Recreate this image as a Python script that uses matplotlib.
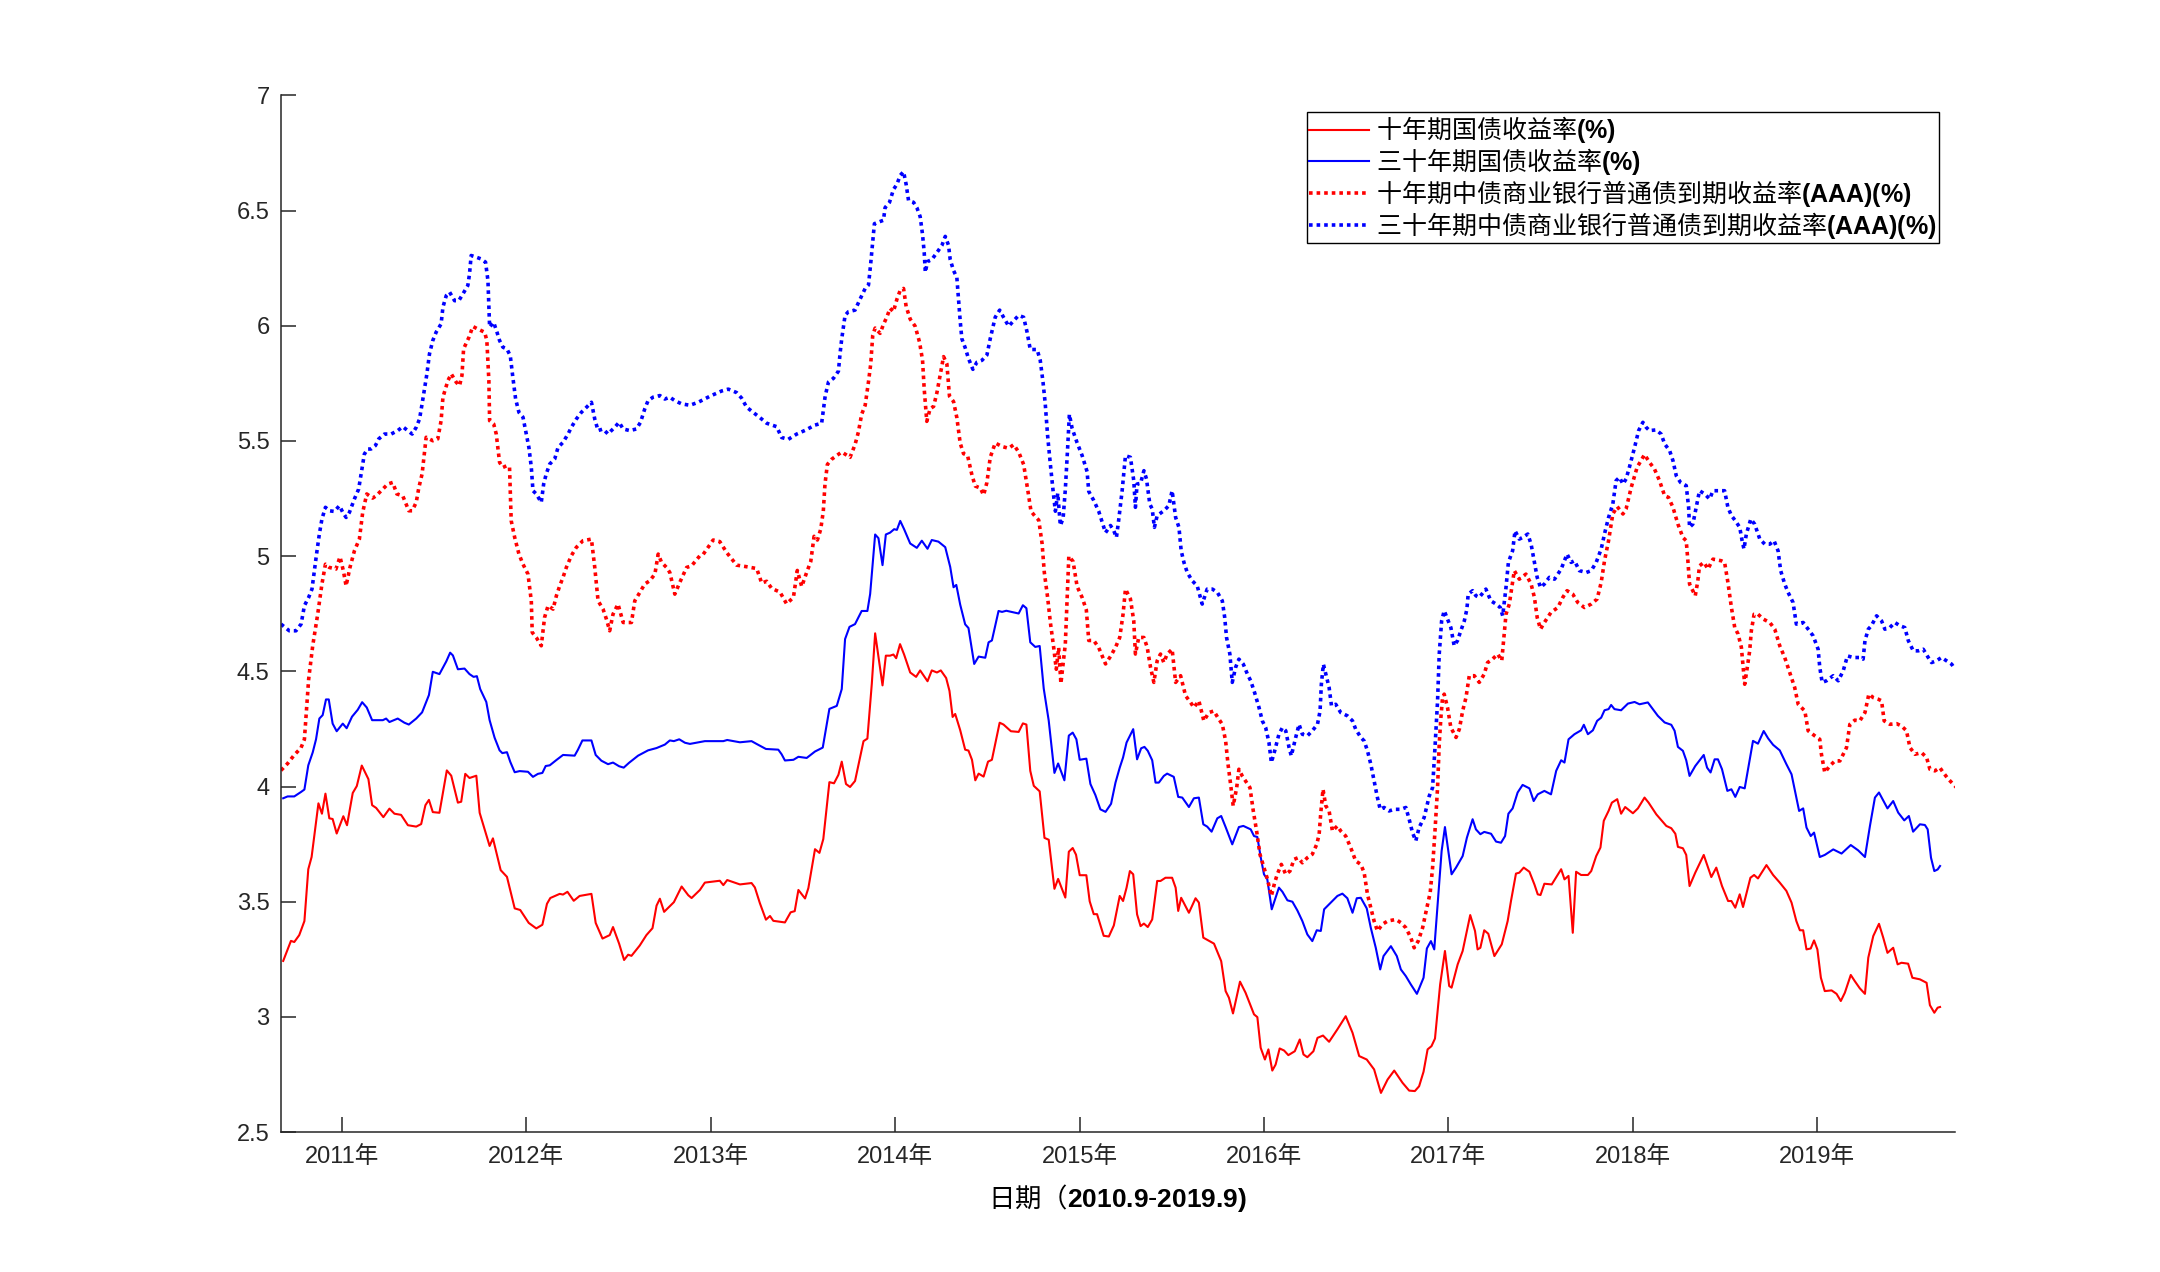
import matplotlib
matplotlib.use("Agg")
import matplotlib.pyplot as plt
from matplotlib.ticker import FuncFormatter

# 中文字体 + 粗体数字（MATLAB风格）
plt.rcParams['font.family'] = ['Liberation Sans', 'Noto Sans CJK SC']
plt.rcParams['mathtext.fontset'] = 'custom'
plt.rcParams['mathtext.rm'] = 'Noto Sans CJK SC'
plt.rcParams['mathtext.bf'] = 'Liberation Sans:bold'
plt.rcParams['axes.unicode_minus'] = False

# 十年期国债收益率 (时间: 小数年份)
gov10_t = [2010.683, 2010.725, 2010.743, 2010.770, 2010.798, 2010.819, 2010.837, 2010.874, 2010.893, 2010.912,
           2010.933, 2010.951, 2010.973, 2011.009, 2011.029, 2011.060, 2011.082, 2011.109, 2011.145, 2011.165,
           2011.187, 2011.226, 2011.259, 2011.286, 2011.322, 2011.359, 2011.404, 2011.431, 2011.454, 2011.473,
           2011.494, 2011.530, 2011.570, 2011.594, 2011.630, 2011.648, 2011.670, 2011.693, 2011.730, 2011.748,
           2011.802, 2011.820, 2011.862, 2011.896, 2011.938, 2011.968, 2012.014, 2012.055, 2012.088, 2012.113,
           2012.131, 2012.182, 2012.200, 2012.224, 2012.258, 2012.290, 2012.354, 2012.377, 2012.414, 2012.453,
           2012.471, 2012.504, 2012.531, 2012.553, 2012.571, 2012.616, 2012.652, 2012.685, 2012.707, 2012.725,
           2012.748, 2012.801, 2012.843, 2012.879, 2012.897, 2012.942, 2012.969, 2013.050, 2013.069, 2013.090,
           2013.159, 2013.222, 2013.240, 2013.267, 2013.300, 2013.322, 2013.340, 2013.403, 2013.434, 2013.456,
           2013.476, 2013.512, 2013.530, 2013.566, 2013.590, 2013.611, 2013.644, 2013.669, 2013.693, 2013.711,
           2013.734, 2013.756, 2013.783, 2013.829, 2013.850, 2013.874, 2013.892, 2013.912, 2013.932, 2013.950,
           2013.973, 2013.991, 2014.006, 2014.027, 2014.049, 2014.082, 2014.114, 2014.136, 2014.176, 2014.199,
           2014.227, 2014.248, 2014.277, 2014.295, 2014.312, 2014.326, 2014.353, 2014.380, 2014.398, 2014.417,
           2014.435, 2014.453, 2014.480, 2014.504, 2014.525, 2014.567, 2014.588, 2014.628, 2014.670, 2014.693,
           2014.712, 2014.733, 2014.752, 2014.784, 2014.810, 2014.833, 2014.864, 2014.884, 2014.923, 2014.942,
           2014.963, 2014.981, 2015.001, 2015.037, 2015.055, 2015.077, 2015.095, 2015.131, 2015.159, 2015.186,
           2015.218, 2015.236, 2015.255, 2015.273, 2015.291, 2015.312, 2015.331, 2015.349, 2015.370, 2015.394,
           2015.421, 2015.439, 2015.466, 2015.502, 2015.521, 2015.535, 2015.551, 2015.593, 2015.629, 2015.647,
           2015.671, 2015.729, 2015.768, 2015.792, 2015.810, 2015.832, 2015.870, 2015.900, 2015.946, 2015.964,
           2015.982, 2016.005, 2016.024, 2016.045, 2016.063, 2016.085, 2016.109, 2016.132, 2016.167, 2016.194,
           2016.214, 2016.235, 2016.268, 2016.290, 2016.320, 2016.353, 2016.398, 2016.443, 2016.480, 2016.516,
           2016.557, 2016.597, 2016.634, 2016.670, 2016.706, 2016.751, 2016.787, 2016.818, 2016.841, 2016.865,
           2016.887, 2016.908, 2016.927, 2016.955, 2016.981, 2017.004, 2017.017, 2017.050, 2017.077, 2017.118,
           2017.144, 2017.158, 2017.173, 2017.194, 2017.216, 2017.249, 2017.289, 2017.321, 2017.339, 2017.366,
           2017.384, 2017.408, 2017.439, 2017.466, 2017.484, 2017.499, 2017.520, 2017.560, 2017.611, 2017.629,
           2017.651, 2017.674, 2017.692, 2017.719, 2017.756, 2017.774, 2017.801, 2017.824, 2017.842, 2017.868,
           2017.886, 2017.915, 2017.936, 2017.958, 2018.000, 2018.027, 2018.063, 2018.085, 2018.127, 2018.181,
           2018.208, 2018.230, 2018.244, 2018.271, 2018.289, 2018.307, 2018.338, 2018.384, 2018.425, 2018.452,
           2018.483, 2018.516, 2018.534, 2018.555, 2018.579, 2018.597, 2018.637, 2018.657, 2018.678, 2018.724,
           2018.760, 2018.796, 2018.832, 2018.860, 2018.886, 2018.905, 2018.923, 2018.941, 2018.964, 2018.982,
           2019.000, 2019.019, 2019.040, 2019.077, 2019.104, 2019.127, 2019.149, 2019.181, 2019.203, 2019.230,
           2019.258, 2019.276, 2019.303, 2019.334, 2019.357, 2019.380, 2019.411, 2019.435, 2019.456, 2019.492,
           2019.515, 2019.556, 2019.592, 2019.610, 2019.634, 2019.652, 2019.665]
gov10 = [3.243, 3.330, 3.325, 3.355, 3.416, 3.641, 3.694, 3.927, 3.882, 3.969,
         3.862, 3.859, 3.796, 3.871, 3.832, 3.972, 4.002, 4.091, 4.032, 3.919,
         3.907, 3.867, 3.904, 3.882, 3.877, 3.832, 3.826, 3.837, 3.919, 3.942,
         3.889, 3.886, 4.070, 4.047, 3.930, 3.934, 4.055, 4.037, 4.047, 3.886,
         3.742, 3.775, 3.637, 3.608, 3.471, 3.464, 3.408, 3.384, 3.400, 3.491,
         3.516, 3.534, 3.531, 3.543, 3.504, 3.525, 3.534, 3.408, 3.340, 3.355,
         3.390, 3.318, 3.247, 3.270, 3.265, 3.310, 3.355, 3.385, 3.483, 3.513,
         3.456, 3.498, 3.566, 3.528, 3.516, 3.551, 3.583, 3.591, 3.572, 3.594,
         3.575, 3.581, 3.562, 3.494, 3.422, 3.438, 3.417, 3.410, 3.454, 3.459,
         3.551, 3.514, 3.559, 3.728, 3.712, 3.772, 4.019, 4.014, 4.051, 4.108,
         4.011, 3.998, 4.024, 4.197, 4.208, 4.447, 4.665, 4.552, 4.439, 4.568,
         4.568, 4.573, 4.557, 4.618, 4.573, 4.495, 4.476, 4.504, 4.457, 4.504,
         4.495, 4.504, 4.471, 4.415, 4.302, 4.315, 4.245, 4.160, 4.156, 4.116,
         4.027, 4.056, 4.043, 4.108, 4.116, 4.277, 4.269, 4.240, 4.237, 4.274,
         4.269, 4.068, 4.003, 3.979, 3.777, 3.769, 3.556, 3.599, 3.518, 3.717,
         3.733, 3.704, 3.615, 3.615, 3.502, 3.446, 3.446, 3.352, 3.349, 3.397,
         3.525, 3.503, 3.561, 3.633, 3.619, 3.445, 3.394, 3.405, 3.390, 3.423,
         3.590, 3.590, 3.604, 3.604, 3.561, 3.460, 3.517, 3.452, 3.515, 3.496,
         3.344, 3.318, 3.242, 3.112, 3.083, 3.015, 3.153, 3.105, 3.011, 2.999,
         2.866, 2.815, 2.859, 2.767, 2.793, 2.863, 2.854, 2.834, 2.851, 2.902,
         2.837, 2.825, 2.851, 2.909, 2.919, 2.892, 2.946, 3.003, 2.931, 2.830,
         2.815, 2.772, 2.670, 2.728, 2.767, 2.714, 2.680, 2.678, 2.699, 2.762,
         2.859, 2.873, 2.906, 3.141, 3.286, 3.134, 3.127, 3.228, 3.286, 3.442,
         3.373, 3.293, 3.300, 3.376, 3.361, 3.264, 3.315, 3.416, 3.503, 3.622,
         3.626, 3.648, 3.630, 3.575, 3.532, 3.529, 3.578, 3.575, 3.641, 3.597,
         3.612, 3.365, 3.630, 3.616, 3.616, 3.633, 3.698, 3.735, 3.851, 3.894,
         3.930, 3.945, 3.882, 3.911, 3.884, 3.905, 3.952, 3.930, 3.879, 3.829,
         3.819, 3.795, 3.738, 3.732, 3.703, 3.568, 3.626, 3.703, 3.607, 3.648,
         3.568, 3.503, 3.503, 3.474, 3.532, 3.477, 3.604, 3.616, 3.601, 3.659,
         3.616, 3.583, 3.547, 3.496, 3.416, 3.376, 3.376, 3.293, 3.297, 3.332,
         3.293, 3.170, 3.112, 3.115, 3.100, 3.069, 3.105, 3.182, 3.155, 3.124,
         3.100, 3.257, 3.351, 3.404, 3.344, 3.278, 3.300, 3.228, 3.235, 3.231,
         3.170, 3.163, 3.148, 3.051, 3.018, 3.040, 3.043]

# 三十年期国债收益率
gov30_t = [2010.683, 2010.707, 2010.743, 2010.779, 2010.798, 2010.819, 2010.843, 2010.861, 2010.879, 2010.897,
           2010.915, 2010.930, 2010.951, 2010.973, 2011.006, 2011.027, 2011.056, 2011.087, 2011.111, 2011.136,
           2011.165, 2011.223, 2011.241, 2011.259, 2011.304, 2011.340, 2011.364, 2011.404, 2011.436, 2011.473,
           2011.494, 2011.530, 2011.567, 2011.588, 2011.603, 2011.630, 2011.666, 2011.693, 2011.715, 2011.733,
           2011.751, 2011.784, 2011.802, 2011.829, 2011.856, 2011.871, 2011.896, 2011.914, 2011.938, 2011.965,
           2012.010, 2012.037, 2012.064, 2012.088, 2012.106, 2012.128, 2012.164, 2012.200, 2012.263, 2012.281,
           2012.305, 2012.354, 2012.377, 2012.408, 2012.444, 2012.471, 2012.504, 2012.529, 2012.558, 2012.607,
           2012.661, 2012.707, 2012.752, 2012.779, 2012.801, 2012.830, 2012.861, 2012.888, 2012.942, 2012.969,
           2013.069, 2013.090, 2013.159, 2013.222, 2013.249, 2013.300, 2013.367, 2013.385, 2013.403, 2013.449,
           2013.476, 2013.521, 2013.566, 2013.608, 2013.644, 2013.684, 2013.711, 2013.729, 2013.753, 2013.783,
           2013.819, 2013.850, 2013.865, 2013.883, 2013.892, 2013.910, 2013.932, 2013.950, 2013.973, 2013.995,
           2014.010, 2014.028, 2014.049, 2014.082, 2014.118, 2014.145, 2014.176, 2014.199, 2014.235, 2014.272,
           2014.299, 2014.317, 2014.332, 2014.353, 2014.380, 2014.398, 2014.429, 2014.453, 2014.489, 2014.507,
           2014.525, 2014.561, 2014.580, 2014.603, 2014.670, 2014.693, 2014.712, 2014.733, 2014.760, 2014.784,
           2014.806, 2014.833, 2014.864, 2014.884, 2014.918, 2014.942, 2014.963, 2014.983, 2015.001, 2015.037,
           2015.059, 2015.086, 2015.113, 2015.141, 2015.171, 2015.195, 2015.218, 2015.236, 2015.255, 2015.291,
           2015.312, 2015.334, 2015.352, 2015.370, 2015.394, 2015.412, 2015.430, 2015.457, 2015.475, 2015.511,
           2015.535, 2015.557, 2015.593, 2015.620, 2015.647, 2015.671, 2015.692, 2015.716, 2015.747, 2015.768,
           2015.792, 2015.828, 2015.864, 2015.888, 2015.928, 2015.946, 2015.964, 2015.982, 2016.000, 2016.018,
           2016.042, 2016.060, 2016.081, 2016.100, 2016.127, 2016.154, 2016.181, 2016.208, 2016.235, 2016.262,
           2016.286, 2016.308, 2016.326, 2016.362, 2016.398, 2016.425, 2016.452, 2016.480, 2016.503, 2016.525,
           2016.557, 2016.579, 2016.606, 2016.630, 2016.648, 2016.688, 2016.720, 2016.742, 2016.769, 2016.796,
           2016.829, 2016.865, 2016.883, 2016.905, 2016.923, 2016.941, 2016.963, 2016.981, 2016.999, 2017.017,
           2017.041, 2017.077, 2017.100, 2017.131, 2017.149, 2017.173, 2017.194, 2017.231, 2017.258, 2017.285,
           2017.307, 2017.325, 2017.348, 2017.375, 2017.402, 2017.439, 2017.462, 2017.484, 2017.520, 2017.556,
           2017.584, 2017.611, 2017.629, 2017.651, 2017.683, 2017.719, 2017.734, 2017.756, 2017.783, 2017.806,
           2017.828, 2017.846, 2017.868, 2017.882, 2017.900, 2017.936, 2017.973, 2018.009, 2018.036, 2018.081,
           2018.108, 2018.135, 2018.172, 2018.208, 2018.226, 2018.244, 2018.271, 2018.289, 2018.307, 2018.338,
           2018.384, 2018.402, 2018.421, 2018.443, 2018.461, 2018.483, 2018.512, 2018.534, 2018.555, 2018.579,
           2018.606, 2018.624, 2018.651, 2018.678, 2018.709, 2018.733, 2018.760, 2018.796, 2018.832, 2018.860,
           2018.877, 2018.901, 2018.923, 2018.941, 2018.964, 2018.982, 2019.013, 2019.040, 2019.086, 2019.131,
           2019.181, 2019.221, 2019.258, 2019.285, 2019.312, 2019.334, 2019.357, 2019.380, 2019.411, 2019.438,
           2019.471, 2019.496, 2019.519, 2019.556, 2019.583, 2019.598, 2019.616, 2019.634, 2019.652, 2019.665]
gov30 = [3.949, 3.957, 3.957, 3.976, 3.987, 4.092, 4.148, 4.205, 4.295, 4.310,
         4.378, 4.378, 4.273, 4.240, 4.273, 4.253, 4.303, 4.333, 4.366, 4.343,
         4.288, 4.288, 4.295, 4.280, 4.295, 4.277, 4.269, 4.295, 4.322, 4.397,
         4.498, 4.488, 4.543, 4.581, 4.569, 4.509, 4.512, 4.488, 4.476, 4.479,
         4.423, 4.367, 4.288, 4.212, 4.157, 4.145, 4.149, 4.107, 4.062, 4.067,
         4.064, 4.042, 4.055, 4.059, 4.089, 4.092, 4.115, 4.137, 4.134, 4.160,
         4.200, 4.200, 4.137, 4.112, 4.097, 4.104, 4.088, 4.082, 4.103, 4.134,
         4.157, 4.167, 4.182, 4.200, 4.197, 4.205, 4.190, 4.185, 4.193, 4.197,
         4.197, 4.202, 4.192, 4.197, 4.185, 4.163, 4.160, 4.140, 4.113, 4.116,
         4.129, 4.124, 4.152, 4.169, 4.337, 4.350, 4.423, 4.640, 4.693, 4.705,
         4.762, 4.762, 4.836, 5.008, 5.094, 5.078, 4.961, 5.094, 5.102, 5.117,
         5.114, 5.153, 5.117, 5.055, 5.036, 5.067, 5.032, 5.070, 5.063, 5.039,
         4.953, 4.865, 4.875, 4.790, 4.704, 4.688, 4.532, 4.564, 4.559, 4.626,
         4.634, 4.762, 4.758, 4.763, 4.751, 4.787, 4.774, 4.626, 4.606, 4.610,
         4.425, 4.286, 4.059, 4.100, 4.027, 4.221, 4.234, 4.205, 4.116, 4.121,
         4.011, 3.963, 3.901, 3.890, 3.925, 4.017, 4.082, 4.126, 4.191, 4.249,
         4.118, 4.166, 4.172, 4.155, 4.114, 4.017, 4.017, 4.046, 4.056, 4.042,
         3.955, 3.952, 3.911, 3.949, 3.952, 3.836, 3.826, 3.804, 3.862, 3.872,
         3.824, 3.749, 3.824, 3.829, 3.814, 3.785, 3.781, 3.694, 3.619, 3.597,
         3.467, 3.510, 3.561, 3.543, 3.506, 3.500, 3.462, 3.416, 3.358, 3.329,
         3.376, 3.373, 3.467, 3.496, 3.525, 3.535, 3.515, 3.452, 3.515, 3.517,
         3.471, 3.387, 3.300, 3.206, 3.264, 3.307, 3.264, 3.206, 3.177, 3.141,
         3.100, 3.170, 3.297, 3.329, 3.293, 3.488, 3.720, 3.824, 3.720, 3.619,
         3.648, 3.698, 3.778, 3.858, 3.814, 3.793, 3.803, 3.795, 3.761, 3.756,
         3.785, 3.882, 3.905, 3.974, 4.007, 3.992, 3.937, 3.966, 3.981, 3.966,
         4.068, 4.114, 4.104, 4.205, 4.227, 4.244, 4.268, 4.227, 4.244, 4.285,
         4.299, 4.331, 4.336, 4.354, 4.336, 4.331, 4.360, 4.367, 4.357, 4.365,
         4.336, 4.307, 4.278, 4.268, 4.242, 4.172, 4.155, 4.114, 4.046, 4.089,
         4.137, 4.082, 4.061, 4.118, 4.118, 4.075, 3.981, 3.988, 3.955, 3.998,
         3.992, 4.075, 4.198, 4.186, 4.241, 4.209, 4.181, 4.157, 4.097, 4.053,
         3.988, 3.894, 3.905, 3.822, 3.785, 3.800, 3.694, 3.703, 3.727, 3.709,
         3.746, 3.723, 3.694, 3.829, 3.952, 3.974, 3.940, 3.905, 3.937, 3.887,
         3.853, 3.872, 3.804, 3.836, 3.833, 3.814, 3.691, 3.633, 3.640, 3.655]

# 十年期中债商业银行普通债到期收益率(AAA)
aaa10_t = [2010.671, 2010.707, 2010.743, 2010.779, 2010.798, 2010.821, 2010.843, 2010.870, 2010.893, 2010.912,
           2010.933, 2010.969, 2010.991, 2011.009, 2011.024, 2011.045, 2011.069, 2011.096, 2011.114, 2011.136,
           2011.168, 2011.187, 2011.223, 2011.250, 2011.277, 2011.299, 2011.331, 2011.364, 2011.382, 2011.404,
           2011.418, 2011.436, 2011.458, 2011.494, 2011.521, 2011.539, 2011.549, 2011.576, 2011.594, 2011.621,
           2011.639, 2011.652, 2011.661, 2011.690, 2011.711, 2011.738, 2011.775, 2011.787, 2011.798, 2011.802,
           2011.824, 2011.838, 2011.856, 2011.874, 2011.896, 2011.910, 2011.919, 2011.938, 2011.961, 2011.983,
           2012.010, 2012.028, 2012.033, 2012.055, 2012.082, 2012.100, 2012.119, 2012.146, 2012.164, 2012.182,
           2012.200, 2012.218, 2012.245, 2012.272, 2012.308, 2012.354, 2012.372, 2012.390, 2012.417, 2012.435,
           2012.453, 2012.471, 2012.498, 2012.526, 2012.571, 2012.589, 2012.616, 2012.643, 2012.670, 2012.698,
           2012.716, 2012.734, 2012.761, 2012.779, 2012.806, 2012.833, 2012.870, 2012.897, 2012.942, 2012.960,
           2013.014, 2013.050, 2013.087, 2013.141, 2013.204, 2013.250, 2013.277, 2013.304, 2013.331, 2013.376,
           2013.412, 2013.449, 2013.470, 2013.494, 2013.521, 2013.543, 2013.561, 2013.579, 2013.597, 2013.611,
           2013.620, 2013.633, 2013.657, 2013.684, 2013.711, 2013.756, 2013.783, 2013.801, 2013.819, 2013.838,
           2013.856, 2013.868, 2013.879, 2013.892, 2013.919, 2013.937, 2013.955, 2013.973, 2013.991, 2014.010,
           2014.028, 2014.046, 2014.060, 2014.082, 2014.109, 2014.133, 2014.149, 2014.158, 2014.172, 2014.190,
           2014.209, 2014.227, 2014.245, 2014.263, 2014.281, 2014.295, 2014.317, 2014.335, 2014.353, 2014.371,
           2014.393, 2014.417, 2014.435, 2014.462, 2014.480, 2014.498, 2014.516, 2014.543, 2014.580, 2014.616,
           2014.643, 2014.670, 2014.697, 2014.719, 2014.737, 2014.760, 2014.779, 2014.797, 2014.809, 2014.827,
           2014.842, 2014.860, 2014.874, 2014.887, 2014.899, 2014.923, 2014.933, 2014.942, 2014.965, 2014.987,
           2015.014, 2015.037, 2015.050, 2015.077, 2015.104, 2015.141, 2015.168, 2015.195, 2015.218, 2015.236,
           2015.249, 2015.276, 2015.294, 2015.303, 2015.321, 2015.349, 2015.367, 2015.385, 2015.403, 2015.421,
           2015.439, 2015.457, 2015.475, 2015.502, 2015.521, 2015.548, 2015.575, 2015.602, 2015.620, 2015.647,
           2015.674, 2015.701, 2015.728, 2015.750, 2015.774, 2015.792, 2015.805, 2015.819, 2015.833, 2015.852,
           2015.864, 2015.882, 2015.906, 2015.924, 2015.942, 2015.960, 2015.978, 2016.000, 2016.018, 2016.040,
           2016.058, 2016.072, 2016.094, 2016.118, 2016.141, 2016.163, 2016.185, 2016.208, 2016.235, 2016.262,
           2016.286, 2016.299, 2016.308, 2016.320, 2016.335, 2016.353, 2016.371, 2016.398, 2016.416, 2016.443,
           2016.470, 2016.497, 2016.525, 2016.543, 2016.561, 2016.579, 2016.597, 2016.615, 2016.642, 2016.670,
           2016.715, 2016.742, 2016.769, 2016.796, 2016.814, 2016.836, 2016.860, 2016.883, 2016.901, 2016.914,
           2016.927, 2016.941, 2016.950, 2016.959, 2016.968, 2016.977, 2016.995, 2017.013, 2017.041, 2017.059,
           2017.077, 2017.095, 2017.113, 2017.140, 2017.167, 2017.194, 2017.212, 2017.239, 2017.267, 2017.289,
           2017.299, 2017.312, 2017.330, 2017.357, 2017.384, 2017.420, 2017.448, 2017.466, 2017.481, 2017.499,
           2017.520, 2017.556, 2017.593, 2017.620, 2017.643, 2017.674, 2017.701, 2017.737, 2017.774, 2017.806,
           2017.828, 2017.846, 2017.868, 2017.891, 2017.915, 2017.946, 2017.963, 2017.991, 2018.023, 2018.063,
           2018.090, 2018.117, 2018.144, 2018.172, 2018.193, 2018.217, 2018.244, 2018.271, 2018.289, 2018.298,
           2018.307, 2018.325, 2018.338, 2018.352, 2018.361, 2018.385, 2018.407, 2018.434, 2018.479, 2018.497,
           2018.515, 2018.534, 2018.552, 2018.570, 2018.588, 2018.601, 2018.606, 2018.620, 2018.633, 2018.642,
           2018.657, 2018.678, 2018.706, 2018.742, 2018.769, 2018.796, 2018.823, 2018.850, 2018.877, 2018.896,
           2018.932, 2018.950, 2018.986, 2019.013, 2019.022, 2019.040, 2019.068, 2019.095, 2019.122, 2019.158,
           2019.176, 2019.203, 2019.230, 2019.258, 2019.279, 2019.303, 2019.330, 2019.348, 2019.362, 2019.393,
           2019.429, 2019.456, 2019.483, 2019.502, 2019.529, 2019.565, 2019.592, 2019.610, 2019.637, 2019.664,
           2019.682, 2019.710, 2019.737, 2019.755]
aaa10 = [4.070, 4.100, 4.137, 4.167, 4.205, 4.466, 4.611, 4.748, 4.879, 4.965,
         4.951, 4.944, 4.997, 4.937, 4.871, 4.951, 5.023, 5.074, 5.190, 5.270,
         5.252, 5.262, 5.291, 5.313, 5.320, 5.270, 5.262, 5.197, 5.197, 5.233,
         5.296, 5.357, 5.516, 5.501, 5.509, 5.588, 5.690, 5.762, 5.791, 5.755,
         5.740, 5.784, 5.900, 5.950, 5.997, 5.986, 5.972, 5.936, 5.762, 5.588,
         5.574, 5.530, 5.407, 5.385, 5.393, 5.385, 5.154, 5.081, 5.009, 4.965,
         4.922, 4.806, 4.669, 4.647, 4.611, 4.734, 4.785, 4.770, 4.828, 4.871,
         4.908, 4.951, 5.002, 5.038, 5.067, 5.074, 4.951, 4.806, 4.770, 4.727,
         4.676, 4.748, 4.792, 4.712, 4.712, 4.806, 4.842, 4.879, 4.893, 4.922,
         5.009, 4.973, 4.951, 4.929, 4.835, 4.886, 4.951, 4.958, 5.002, 5.008,
         5.070, 5.063, 5.016, 4.961, 4.953, 4.946, 4.883, 4.891, 4.860, 4.844,
         4.793, 4.821, 4.938, 4.868, 4.930, 4.977, 5.086, 5.070, 5.117, 5.195,
         5.312, 5.398, 5.421, 5.437, 5.452, 5.429, 5.484, 5.538, 5.616, 5.655,
         5.757, 5.834, 5.959, 5.990, 5.967, 6.006, 6.037, 6.076, 6.061, 6.115,
         6.154, 6.162, 6.084, 6.029, 5.998, 5.928, 5.850, 5.725, 5.585, 5.640,
         5.650, 5.710, 5.788, 5.866, 5.834, 5.694, 5.671, 5.601, 5.491, 5.445,
         5.437, 5.351, 5.304, 5.296, 5.265, 5.320, 5.429, 5.491, 5.476, 5.468,
         5.484, 5.452, 5.398, 5.289, 5.195, 5.172, 5.156, 5.055, 4.930, 4.821,
         4.712, 4.603, 4.509, 4.603, 4.447, 4.618, 4.821, 5.000, 4.977, 4.868,
         4.821, 4.766, 4.634, 4.634, 4.603, 4.532, 4.565, 4.604, 4.647, 4.748,
         4.857, 4.814, 4.719, 4.575, 4.647, 4.647, 4.604, 4.517, 4.452, 4.546,
         4.575, 4.538, 4.575, 4.596, 4.452, 4.481, 4.394, 4.365, 4.343, 4.372,
         4.285, 4.321, 4.328, 4.299, 4.270, 4.198, 4.097, 4.010, 3.916, 3.995,
         4.075, 4.046, 4.017, 3.995, 3.894, 3.807, 3.706, 3.648, 3.600, 3.525,
         3.583, 3.619, 3.662, 3.619, 3.633, 3.684, 3.691, 3.669, 3.691, 3.706,
         3.749, 3.793, 3.887, 3.988, 3.916, 3.894, 3.807, 3.829, 3.807, 3.785,
         3.735, 3.677, 3.662, 3.626, 3.532, 3.474, 3.416, 3.373, 3.402, 3.416,
         3.423, 3.409, 3.387, 3.344, 3.300, 3.329, 3.387, 3.474, 3.539, 3.648,
         3.807, 3.995, 4.184, 4.299, 4.386, 4.401, 4.343, 4.256, 4.213, 4.249,
         4.328, 4.386, 4.481, 4.481, 4.452, 4.488, 4.538, 4.553, 4.575, 4.546,
         4.633, 4.748, 4.792, 4.937, 4.900, 4.922, 4.879, 4.821, 4.734, 4.683,
         4.712, 4.756, 4.777, 4.821, 4.850, 4.835, 4.799, 4.777, 4.792, 4.814,
         4.886, 4.980, 5.067, 5.183, 5.215, 5.183, 5.205, 5.299, 5.386, 5.441,
         5.407, 5.378, 5.328, 5.262, 5.255, 5.212, 5.139, 5.081, 5.067, 4.980,
         4.879, 4.850, 4.828, 4.893, 4.958, 4.973, 4.944, 4.987, 4.980, 4.973,
         4.886, 4.777, 4.690, 4.662, 4.604, 4.488, 4.444, 4.517, 4.589, 4.676,
         4.748, 4.748, 4.727, 4.712, 4.683, 4.611, 4.560, 4.495, 4.430, 4.357,
         4.328, 4.242, 4.220, 4.205, 4.140, 4.061, 4.090, 4.111, 4.111, 4.169,
         4.270, 4.288, 4.285, 4.321, 4.401, 4.386, 4.379, 4.372, 4.285, 4.270,
         4.273, 4.263, 4.242, 4.169, 4.140, 4.147, 4.126, 4.075, 4.068, 4.082,
         4.061, 4.032, 4.010, 3.995]

# 三十年期中债商业银行普通债到期收益率(AAA)
aaa30_t = [2010.671, 2010.716, 2010.752, 2010.780, 2010.798, 2010.821, 2010.839, 2010.852, 2010.865, 2010.879,
           2010.893, 2010.912, 2010.933, 2010.960, 2010.988, 2011.006, 2011.024, 2011.042, 2011.069, 2011.092,
           2011.111, 2011.123, 2011.141, 2011.159, 2011.183, 2011.201, 2011.232, 2011.268, 2011.304, 2011.331,
           2011.358, 2011.382, 2011.404, 2011.422, 2011.436, 2011.449, 2011.462, 2011.476, 2011.494, 2011.512,
           2011.539, 2011.549, 2011.567, 2011.585, 2011.612, 2011.635, 2011.657, 2011.684, 2011.693, 2011.702,
           2011.729, 2011.756, 2011.780, 2011.793, 2011.798, 2011.802, 2011.824, 2011.842, 2011.856, 2011.874,
           2011.896, 2011.914, 2011.928, 2011.943, 2011.961, 2011.983, 2012.001, 2012.015, 2012.028, 2012.037,
           2012.055, 2012.082, 2012.095, 2012.109, 2012.128, 2012.155, 2012.173, 2012.200, 2012.227, 2012.245,
           2012.272, 2012.299, 2012.327, 2012.354, 2012.372, 2012.390, 2012.417, 2012.444, 2012.462, 2012.480,
           2012.504, 2012.526, 2012.562, 2012.598, 2012.620, 2012.643, 2012.661, 2012.688, 2012.725, 2012.752,
           2012.779, 2012.806, 2012.843, 2012.888, 2012.933, 2012.996, 2013.060, 2013.096, 2013.141, 2013.168,
           2013.195, 2013.231, 2013.268, 2013.304, 2013.358, 2013.385, 2013.421, 2013.467, 2013.512, 2013.566,
           2013.602, 2013.621, 2013.639, 2013.666, 2013.693, 2013.702, 2013.711, 2013.729, 2013.747, 2013.783,
           2013.810, 2013.838, 2013.856, 2013.868, 2013.879, 2013.888, 2013.910, 2013.937, 2013.946, 2013.970,
           2013.991, 2014.010, 2014.028, 2014.046, 2014.060, 2014.073, 2014.100, 2014.118, 2014.136, 2014.149,
           2014.158, 2014.164, 2014.176, 2014.199, 2014.227, 2014.254, 2014.272, 2014.290, 2014.299, 2014.317,
           2014.335, 2014.344, 2014.353, 2014.362, 2014.380, 2014.398, 2014.422, 2014.444, 2014.471, 2014.498,
           2014.516, 2014.543, 2014.567, 2014.588, 2014.616, 2014.643, 2014.670, 2014.697, 2014.715, 2014.733,
           2014.770, 2014.787, 2014.802, 2014.814, 2014.827, 2014.842, 2014.856, 2014.869, 2014.882, 2014.896,
           2014.911, 2014.923, 2014.936, 2014.945, 2014.960, 2014.987, 2015.014, 2015.041, 2015.050, 2015.077,
           2015.104, 2015.141, 2015.168, 2015.186, 2015.200, 2015.213, 2015.231, 2015.249, 2015.276, 2015.294,
           2015.303, 2015.312, 2015.331, 2015.349, 2015.363, 2015.381, 2015.394, 2015.406, 2015.421, 2015.457,
           2015.484, 2015.502, 2015.521, 2015.539, 2015.551, 2015.566, 2015.584, 2015.611, 2015.638, 2015.665,
           2015.692, 2015.720, 2015.747, 2015.774, 2015.787, 2015.797, 2015.815, 2015.828, 2015.846, 2015.864,
           2015.888, 2015.910, 2015.928, 2015.949, 2015.973, 2015.991, 2016.009, 2016.027, 2016.040, 2016.058,
           2016.081, 2016.100, 2016.118, 2016.136, 2016.148, 2016.172, 2016.190, 2016.208, 2016.235, 2016.262,
           2016.290, 2016.304, 2016.311, 2016.322, 2016.335, 2016.353, 2016.366, 2016.389, 2016.416, 2016.452,
           2016.480, 2016.497, 2016.525, 2016.543, 2016.561, 2016.579, 2016.597, 2016.615, 2016.630, 2016.651,
           2016.678, 2016.706, 2016.742, 2016.769, 2016.787, 2016.805, 2016.823, 2016.841, 2016.868, 2016.896,
           2016.914, 2016.927, 2016.941, 2016.950, 2016.963, 2016.977, 2016.995, 2017.013, 2017.031, 2017.049,
           2017.067, 2017.086, 2017.100, 2017.107, 2017.131, 2017.149, 2017.167, 2017.203, 2017.230, 2017.258,
           2017.281, 2017.294, 2017.312, 2017.325, 2017.348, 2017.361, 2017.384, 2017.402, 2017.430, 2017.448,
           2017.466, 2017.481, 2017.499, 2017.520, 2017.547, 2017.575, 2017.611, 2017.629, 2017.643, 2017.665,
           2017.683, 2017.710, 2017.747, 2017.774, 2017.801, 2017.828, 2017.850, 2017.868, 2017.891, 2017.909,
           2017.927, 2017.946, 2017.963, 2017.981, 2018.009, 2018.031, 2018.054, 2018.072, 2018.090, 2018.126,
           2018.153, 2018.172, 2018.199, 2018.217, 2018.235, 2018.258, 2018.289, 2018.302, 2018.307, 2018.325,
           2018.343, 2018.361, 2018.389, 2018.416, 2018.434, 2018.470, 2018.497, 2018.515, 2018.534, 2018.555,
           2018.579, 2018.592, 2018.602, 2018.615, 2018.639, 2018.660, 2018.688, 2018.715, 2018.742, 2018.765,
           2018.787, 2018.801, 2018.823, 2018.841, 2018.868, 2018.886, 2018.923, 2018.950, 2018.977, 2019.004,
           2019.013, 2019.026, 2019.049, 2019.086, 2019.113, 2019.140, 2019.163, 2019.194, 2019.230, 2019.248,
           2019.258, 2019.276, 2019.293, 2019.321, 2019.348, 2019.366, 2019.393, 2019.420, 2019.447, 2019.474,
           2019.493, 2019.520, 2019.547, 2019.574, 2019.601, 2019.619, 2019.646, 2019.673, 2019.700, 2019.728,
           2019.746]
aaa30 = [4.705, 4.676, 4.676, 4.705, 4.785, 4.821, 4.857, 4.937, 5.016, 5.096,
         5.161, 5.212, 5.197, 5.194, 5.219, 5.190, 5.168, 5.190, 5.248, 5.291,
         5.386, 5.443, 5.465, 5.465, 5.480, 5.509, 5.530, 5.530, 5.545, 5.562,
         5.545, 5.530, 5.559, 5.595, 5.661, 5.726, 5.791, 5.878, 5.936, 5.972,
         6.008, 6.081, 6.131, 6.146, 6.109, 6.109, 6.138, 6.175, 6.225, 6.305,
         6.298, 6.290, 6.276, 6.196, 6.081, 5.994, 6.015, 5.972, 5.936, 5.907,
         5.899, 5.870, 5.776, 5.682, 5.624, 5.603, 5.530, 5.472, 5.386, 5.284,
         5.270, 5.233, 5.313, 5.357, 5.400, 5.422, 5.472, 5.494, 5.530, 5.559,
         5.595, 5.624, 5.646, 5.668, 5.595, 5.545, 5.552, 5.530, 5.545, 5.559,
         5.581, 5.552, 5.545, 5.552, 5.581, 5.639, 5.675, 5.690, 5.697, 5.682,
         5.690, 5.675, 5.661, 5.655, 5.668, 5.694, 5.717, 5.725, 5.710, 5.686,
         5.647, 5.624, 5.601, 5.577, 5.562, 5.515, 5.507, 5.530, 5.546, 5.569,
         5.577, 5.694, 5.756, 5.772, 5.803, 5.881, 5.944, 6.045, 6.061, 6.068,
         6.115, 6.162, 6.177, 6.271, 6.365, 6.443, 6.450, 6.458, 6.513, 6.536,
         6.591, 6.614, 6.653, 6.669, 6.614, 6.544, 6.536, 6.513, 6.474, 6.396,
         6.318, 6.232, 6.279, 6.287, 6.318, 6.349, 6.388, 6.349, 6.287, 6.240,
         6.209, 6.115, 6.022, 5.944, 5.905, 5.858, 5.811, 5.842, 5.850, 5.873,
         5.944, 6.037, 6.068, 6.037, 5.998, 6.022, 6.045, 6.037, 5.975, 5.897,
         5.897, 5.850, 5.756, 5.663, 5.523, 5.398, 5.289, 5.195, 5.273, 5.133,
         5.164, 5.289, 5.476, 5.616, 5.554, 5.492, 5.437, 5.367, 5.281, 5.242,
         5.195, 5.102, 5.133, 5.110, 5.081, 5.161, 5.284, 5.436, 5.429, 5.328,
         5.212, 5.313, 5.316, 5.371, 5.335, 5.226, 5.205, 5.125, 5.176, 5.197,
         5.219, 5.284, 5.168, 5.125, 5.024, 4.973, 4.929, 4.893, 4.871, 4.792,
         4.857, 4.857, 4.843, 4.806, 4.734, 4.647, 4.575, 4.452, 4.517, 4.553,
         4.531, 4.488, 4.459, 4.408, 4.343, 4.285, 4.256, 4.191, 4.104, 4.155,
         4.227, 4.256, 4.242, 4.169, 4.133, 4.213, 4.270, 4.227, 4.220, 4.242,
         4.270, 4.328, 4.444, 4.531, 4.488, 4.430, 4.350, 4.357, 4.321, 4.307,
         4.285, 4.249, 4.213, 4.198, 4.155, 4.097, 4.024, 3.952, 3.901, 3.909,
         3.894, 3.901, 3.901, 3.909, 3.858, 3.800, 3.764, 3.822, 3.865, 3.959,
         3.995, 4.169, 4.372, 4.575, 4.719, 4.763, 4.727, 4.690, 4.611, 4.633,
         4.676, 4.719, 4.770, 4.835, 4.850, 4.828, 4.821, 4.857, 4.806, 4.792,
         4.777, 4.741, 4.864, 4.973, 5.024, 5.110, 5.074, 5.081, 5.096, 5.052,
         4.973, 4.908, 4.864, 4.879, 4.908, 4.900, 4.944, 4.980, 5.009, 4.973,
         4.980, 4.937, 4.929, 4.937, 4.973, 5.031, 5.110, 5.168, 5.226, 5.328,
         5.342, 5.313, 5.335, 5.386, 5.472, 5.545, 5.581, 5.559, 5.545, 5.548,
         5.530, 5.487, 5.458, 5.415, 5.349, 5.320, 5.306, 5.212, 5.125, 5.139,
         5.212, 5.284, 5.270, 5.248, 5.284, 5.284, 5.284, 5.212, 5.176, 5.154,
         5.125, 5.067, 5.031, 5.096, 5.161, 5.139, 5.074, 5.052, 5.052, 5.067,
         5.023, 4.937, 4.879, 4.843, 4.799, 4.705, 4.712, 4.683, 4.654, 4.596,
         4.517, 4.452, 4.459, 4.481, 4.459, 4.502, 4.567, 4.560, 4.560, 4.553,
         4.633, 4.683, 4.698, 4.741, 4.719, 4.683, 4.690, 4.712, 4.698, 4.690,
         4.633, 4.589, 4.589, 4.596, 4.560, 4.538, 4.546, 4.560, 4.546, 4.531,
         4.509]

labels = ['十年期国债收益率$\\mathbf{(\\%)}$',
          '三十年期国债收益率$\\mathbf{(\\%)}$',
          '十年期中债商业银行普通债到期收益率$\\mathbf{(AAA)(\\%)}$',
          '三十年期中债商业银行普通债到期收益率$\\mathbf{(AAA)(\\%)}$']
year_ticks = [2011, 2012, 2013, 2014, 2015, 2016, 2017, 2018, 2019]
year_labels = ['2011年', '2012年', '2013年', '2014年', '2015年', '2016年', '2017年', '2018年', '2019年']
y_ticks = [2.5, 3, 3.5, 4, 4.5, 5, 5.5, 6, 6.5, 7]

dot = (0, (1, 1.1))
fig = plt.figure(figsize=(21.6, 12.72), dpi=100)
ax = fig.add_axes([0.13, 0.11, 0.775, 0.815])

ax.plot(gov10_t, gov10, color='red', lw=1.5, label=labels[0])
ax.plot(gov30_t, gov30, color='blue', lw=1.5, label=labels[1])
ax.plot(aaa10_t, aaa10, color='red', lw=2.6, linestyle=dot, label=labels[2])
ax.plot(aaa30_t, aaa30, color='blue', lw=2.6, linestyle=dot, label=labels[3])

ax.set_xlim(2010.67, 2019.745)
ax.set_ylim(2.5, 7)
ax.set_xticks(year_ticks)
ax.set_xticklabels(year_labels)
ax.set_yticks(y_ticks)
ax.yaxis.set_major_formatter(FuncFormatter(lambda v, p: '%g' % v))

axc = (0.15, 0.15, 0.15)
for s in ['top', 'right']:
    ax.spines[s].set_visible(False)
for s in ['bottom', 'left']:
    ax.spines[s].set_color(axc)
    ax.spines[s].set_linewidth(1.1)
ax.tick_params(direction='in', length=11, width=1.1, colors=axc, labelsize=17)
ax.tick_params(axis='x', pad=10)
ax.tick_params(axis='y', pad=8)

ax.set_xlabel('日期（$\\mathbf{2010.9}$-$\\mathbf{2019.9)}$', fontsize=19, color='black',
              labelpad=10, family='Noto Sans CJK SC')

leg = ax.legend(loc='upper right', bbox_to_anchor=(0.9904, 0.9836), borderaxespad=0,
                prop={'family': 'Noto Sans CJK SC', 'size': 18},
                fancybox=False, framealpha=1, edgecolor='black',
                handlelength=2.4, handletextpad=0.3, labelspacing=0.03,
                borderpad=0.08)
leg.get_frame().set_linewidth(1.0)

plt.savefig('out.png', dpi=100)
